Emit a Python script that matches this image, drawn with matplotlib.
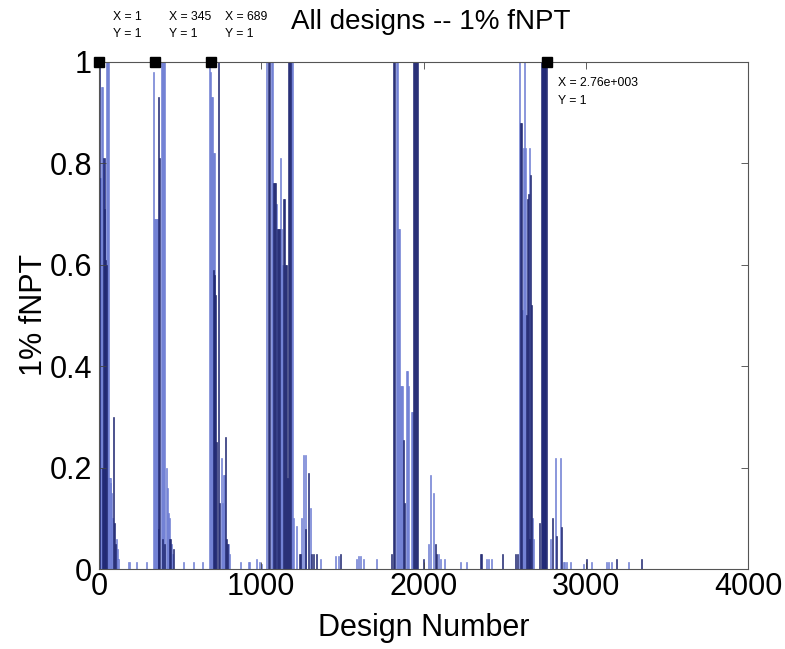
import numpy as np
import matplotlib.pyplot as plt

plt.rcParams['font.family'] = ['Liberation Sans', 'DejaVu Sans']

# fNPT per design; two bar groups (dark / light shading)
dark_x = [1, 25, 31, 37, 43, 49, 92, 98, 104,
          365, 369, 375, 394, 406, 437, 443, 462,
          708, 714, 720, 726, 738, 744, 782, 788, 794,
          1046, 1052, 1077, 1083, 1089, 1102, 1108, 1114, 1138, 1145, 1151, 1157,
          1163, 1169, 1175, 1182, 1237, 1243, 1274, 1292, 1311, 1323, 1342,
          1489, 1803,
          1815, 1822, 1877, 1883, 1938, 1945, 1951, 1957, 1963, 2000, 2074, 2080,
          2351, 2357, 2486, 2566, 2578,
          2597, 2603, 2634, 2640, 2646, 2652, 2658, 2665, 2714, 2730, 2736, 2742,
          2748, 2754, 2760, 2794, 2818, 2849, 3003, 3188, 3342]
dark_y = [1.0, 0.20, 0.81, 0.71, 0.61, 0.60, 0.30, 0.09, 0.05,
          0.08, 0.93, 0.81, 0.06, 0.05, 0.06, 0.06, 0.04,
          0.59, 0.58, 0.54, 0.25, 1.0, 0.13, 0.26, 0.06, 0.05,
          1.0, 1.0, 0.76, 0.76, 0.76, 0.67, 0.67, 0.67, 0.73, 0.73, 0.60, 0.60,
          0.18, 1.0, 1.0, 1.0, 0.03, 0.03, 0.08, 0.19, 0.03, 0.03, 0.03,
          0.03, 0.03,
          1.0, 1.0, 0.255, 0.13, 1.0, 1.0, 1.0, 1.0, 1.0, 0.02, 0.05, 0.03,
          0.03, 0.03, 0.03, 0.03, 0.03,
          0.88, 0.88, 0.50, 0.73, 0.74, 0.06, 0.776, 0.52, 0.09, 1.0, 1.0, 1.0,
          1.0, 1.0, 1.0, 0.10, 0.065, 0.083, 0.02, 0.02, 0.02]

light_x = [6, 12, 18, 22, 46, 52, 57, 62, 68, 74, 80, 86, 108, 113, 118,
           185, 234, 295,
           338, 344, 350, 356, 362, 388, 394, 400, 406, 418, 424, 431, 437, 449, 455,
           523, 585, 640,
           683, 689, 695, 702, 708, 714, 757, 763, 769, 775, 800, 806,
           874, 923, 929, 972, 991, 1003,
           1034, 1065, 1071, 1095, 1120, 1126, 1132, 1188, 1194, 1200, 1218, 1249,
           1262, 1274, 1305, 1366, 1458, 1477, 1588, 1600, 1612, 1631, 1711,
           1834, 1840, 1846, 1852, 1858, 1865, 1871, 1895, 1902, 1908, 1926, 1932,
           2031, 2043, 2062, 2090, 2105, 2128, 2228, 2265, 2388, 2400, 2418,
           2591, 2609, 2615, 2622, 2628, 2652, 2671, 2680, 2782, 2812, 2843,
           2862, 2870, 2880, 2905, 2985, 3034, 3126, 3138, 3157, 3262]
light_y = [0.77, 0.77, 0.95, 0.95, 1.0, 1.0, 1.0, 0.18, 0.18, 0.17, 0.15, 0.10, 0.06, 0.04, 0.02,
           0.015, 0.015, 0.015,
           0.98, 0.69, 0.69, 0.69, 0.69, 1.0, 1.0, 1.0, 1.0, 0.20, 0.16, 0.11, 0.10, 0.05, 0.03,
           0.015, 0.015, 0.015,
           1.0, 0.98, 0.93, 0.93, 0.82, 0.82, 0.22, 0.13, 0.185, 0.185, 0.05, 0.03,
           0.015, 0.015, 0.015, 0.02, 0.015, 0.01,
           1.0, 1.0, 1.0, 0.72, 0.81, 0.67, 0.60, 1.0, 1.0, 0.10, 0.085, 0.10,
           0.225, 0.225, 0.12, 0.02, 0.025, 0.025, 0.02, 0.025, 0.025, 0.02, 0.02,
           1.0, 1.0, 0.67, 0.67, 0.36, 0.36, 0.36, 0.39, 0.39, 0.36, 0.31, 0.31,
           0.05, 0.185, 0.15, 0.03, 0.02, 0.02, 0.015, 0.015, 0.02, 0.02, 0.02,
           1.0, 0.51, 0.83, 1.0, 0.83, 0.83, 0.10, 0.06, 0.06, 0.22, 0.22,
           0.015, 0.015, 0.015, 0.015, 0.01, 0.015, 0.015, 0.015, 0.015, 0.015]

# data tips shown on the plot
tip_x = [1, 345, 689, 2760]
tip_y = [1, 1, 1, 1]
tip_text = ['X = 1\nY = 1', 'X = 345\nY = 1', 'X = 689\nY = 1', 'X = 2.76e+003\nY = 1']

yticks = [0, 0.2, 0.4, 0.6, 0.8, 1]
ytick_labels = ['0', '0.2', '0.4', '0.6', '0.8', '1']
xticks = [0, 1000, 2000, 3000, 4000]

fig = plt.figure(figsize=(7.85, 6.49), dpi=100)
ax = fig.add_axes([0.126, 0.123, 0.827, 0.782])

ax.bar(light_x, light_y, width=7, color='#7f8ede', edgecolor='#6676cf', linewidth=0.4)
ax.bar(dark_x, dark_y, width=7, color='#2b3590', edgecolor='#1b2265', linewidth=0.4)

ax.set_xlim(0, 4000)
ax.set_ylim(0, 1)
ax.set_xticks(xticks)
ax.set_yticks(yticks)
ax.set_yticklabels(ytick_labels)
ax.tick_params(direction='in', length=5, width=0.6, labelsize=22,
               top=True, right=True, color='#444444')
ax.tick_params(axis='x', pad=2)
ax.tick_params(axis='y', pad=5)
for s in ax.spines.values():
    s.set_linewidth(0.8)
    s.set_color('#555555')

ax.set_xlabel('Design Number', fontsize=22, labelpad=8)
ax.set_ylabel('1% fNPT', fontsize=22, labelpad=0)

fig.text(431 / 785, 1 - 22 / 649, 'All designs -- 1% fNPT', fontsize=20,
         ha='center', va='center')

# data tip markers and labels
ax.plot(tip_x, tip_y, 's', color='black', markersize=7, clip_on=False, zorder=5)
offsets = [(10, 26), (10, 26), (10, 26), (8, -22)]
for x, y, t, (dx, dy) in zip(tip_x, tip_y, tip_text, offsets):
    ax.annotate(t, (x, y), xytext=(dx, dy), textcoords='offset points',
                fontsize=8.8, ha='left', va='center', linespacing=1.65,
                annotation_clip=False)

plt.savefig('out.png', dpi=100)
